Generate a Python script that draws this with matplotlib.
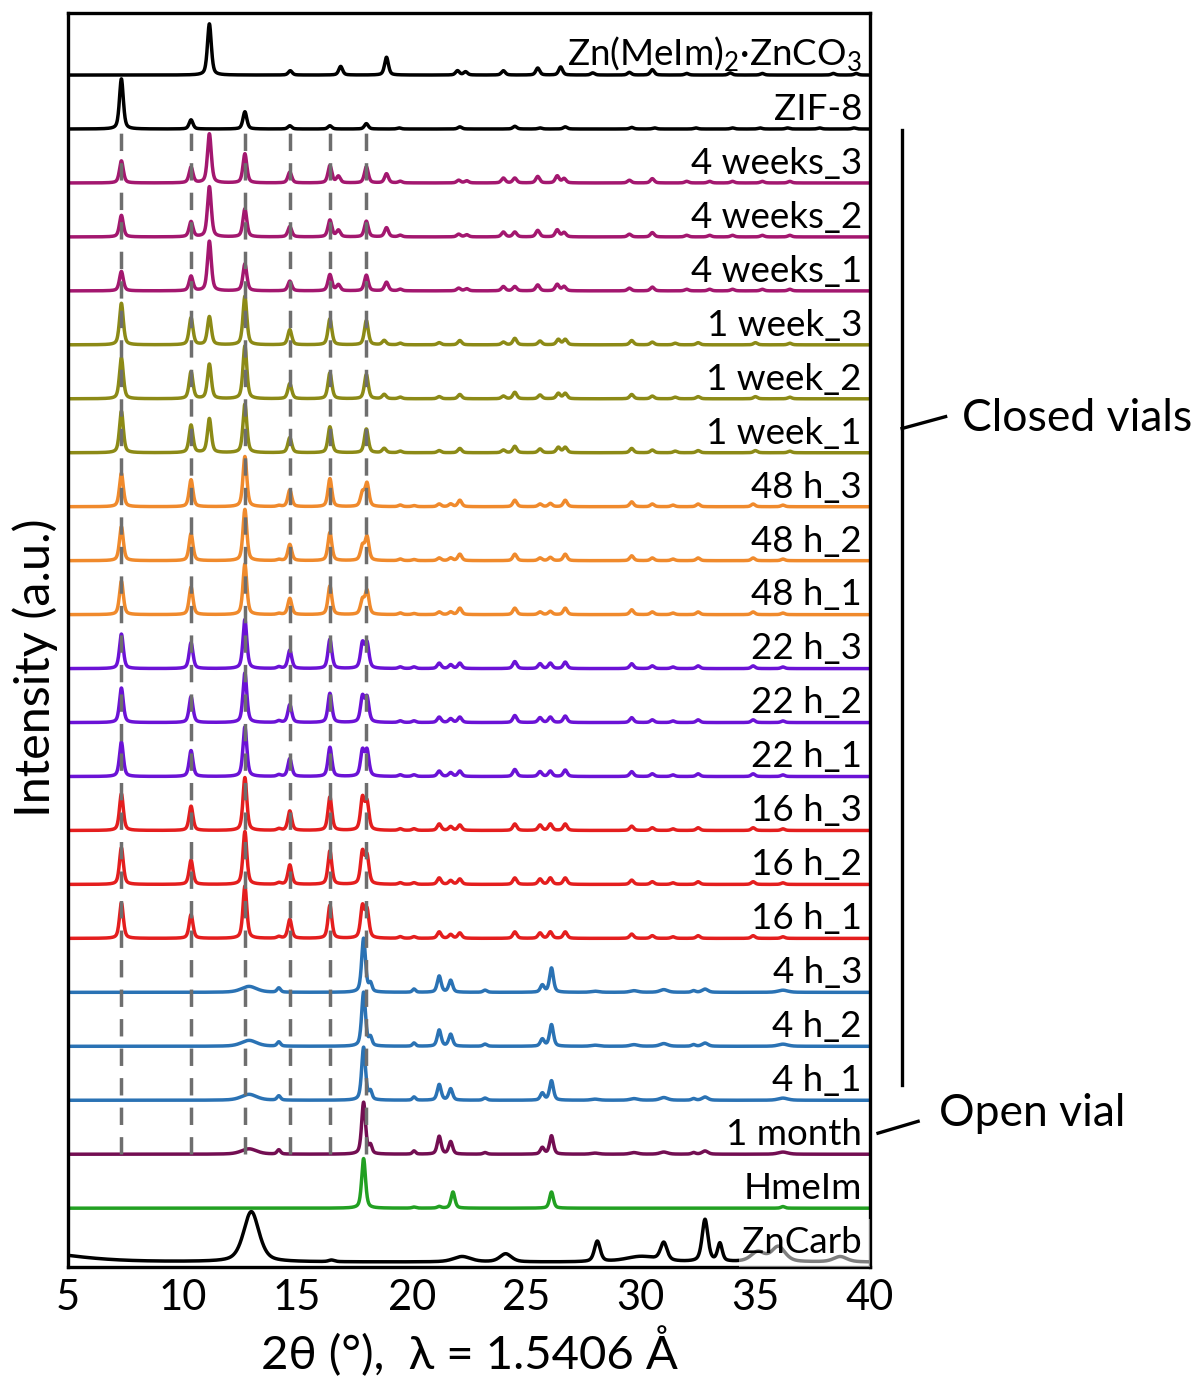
import numpy as np
import matplotlib
matplotlib.use("Agg")
import matplotlib.pyplot as plt
from matplotlib.patches import Rectangle

plt.rcParams['font.family'] = ['Lato', 'DejaVu Sans']
plt.rcParams['mathtext.fontset'] = 'custom'
plt.rcParams['mathtext.rm'] = 'Lato'

# ---------------- data (peak positions 2theta, heights, half widths) ----------------
ZNMEIM_POS = [11.17, 14.7, 16.9, 18.9, 22.0, 22.35, 24.0, 25.5, 26.5, 27.9, 29.5, 30.5, 32.0, 33.9, 35.3, 38.4, 39.4]
ZNMEIM_H   = [0.95, 0.08, 0.16, 0.33, 0.08, 0.06, 0.08, 0.13, 0.15, 0.04, 0.05, 0.10, 0.03, 0.04, 0.03, 0.03, 0.03]

ZIF8_POS = [7.33, 10.37, 12.72, 14.68, 16.43, 18.02, 19.45, 22.1, 24.5, 25.6, 26.7, 29.6, 30.6, 32.4, 34.0, 35.2, 36.4, 37.8, 39.3]
ZIF8_H   = [0.93, 0.17, 0.32, 0.06, 0.06, 0.10, 0.02, 0.04, 0.05, 0.02, 0.04, 0.03, 0.02, 0.02, 0.02, 0.02, 0.02, 0.02, 0.02]

W4_POS = [7.33, 10.37, 11.17, 12.72, 14.68, 16.43, 16.8, 18.02, 18.9, 19.5, 22.05, 22.4, 24.0, 24.5, 25.5, 26.35, 26.65, 29.5, 30.5, 32.0, 33.0, 34.0, 35.3, 36.5]
W4_H3 = [0.41, 0.29, 0.91, 0.54, 0.20, 0.32, 0.12, 0.30, 0.17, 0.03, 0.05, 0.04, 0.09, 0.09, 0.12, 0.13, 0.08, 0.05, 0.08, 0.03, 0.03, 0.03, 0.03, 0.03]
W4_H2 = [0.40, 0.28, 0.93, 0.52, 0.19, 0.31, 0.12, 0.29, 0.17, 0.03, 0.05, 0.04, 0.09, 0.09, 0.12, 0.13, 0.08, 0.05, 0.08, 0.03, 0.03, 0.03, 0.03, 0.03]
W4_H1 = [0.36, 0.27, 0.92, 0.50, 0.18, 0.30, 0.11, 0.29, 0.16, 0.03, 0.05, 0.04, 0.08, 0.08, 0.11, 0.12, 0.08, 0.05, 0.07, 0.03, 0.03, 0.03, 0.03, 0.03]

W1_POS = [7.33, 10.37, 11.17, 12.72, 14.68, 16.43, 18.02, 18.8, 19.5, 21.2, 22.1, 24.0, 24.5, 25.6, 26.4, 26.7, 29.6, 30.5, 31.5, 32.5, 35.0, 36.5]
W1_H3 = [0.77, 0.50, 0.52, 0.90, 0.28, 0.48, 0.45, 0.08, 0.03, 0.04, 0.08, 0.05, 0.12, 0.07, 0.10, 0.10, 0.08, 0.05, 0.03, 0.04, 0.04, 0.03]
W1_H2 = [0.76, 0.50, 0.64, 0.98, 0.28, 0.48, 0.45, 0.08, 0.03, 0.04, 0.08, 0.05, 0.12, 0.07, 0.10, 0.10, 0.08, 0.05, 0.03, 0.04, 0.04, 0.03]
W1_H1 = [0.77, 0.51, 0.63, 0.90, 0.28, 0.48, 0.44, 0.08, 0.03, 0.04, 0.08, 0.05, 0.12, 0.07, 0.10, 0.10, 0.08, 0.05, 0.03, 0.04, 0.04, 0.03]

H48_POS = [7.33, 10.37, 12.72, 14.2, 14.68, 16.43, 17.85, 18.05, 19.5, 20.1, 21.2, 21.7, 22.1, 24.5, 25.6, 26.05, 26.7, 29.6, 30.5, 31.4, 32.5, 34.9, 36.2]
H48_H3 = [0.62, 0.50, 0.93, 0.02, 0.31, 0.52, 0.25, 0.42, 0.03, 0.02, 0.05, 0.05, 0.12, 0.12, 0.05, 0.06, 0.12, 0.09, 0.05, 0.03, 0.05, 0.05, 0.03]
H48_H2 = [0.63, 0.50, 0.95, 0.02, 0.30, 0.52, 0.26, 0.43, 0.03, 0.02, 0.05, 0.05, 0.12, 0.12, 0.05, 0.06, 0.12, 0.09, 0.05, 0.03, 0.05, 0.05, 0.03]
H48_H1 = [0.62, 0.51, 0.94, 0.02, 0.30, 0.53, 0.26, 0.43, 0.03, 0.02, 0.05, 0.05, 0.12, 0.12, 0.05, 0.06, 0.12, 0.09, 0.05, 0.03, 0.05, 0.05, 0.03]

H22_H3 = [0.64, 0.48, 0.91, 0.03, 0.34, 0.54, 0.45, 0.45, 0.03, 0.03, 0.10, 0.07, 0.10, 0.13, 0.09, 0.10, 0.12, 0.09, 0.05, 0.03, 0.05, 0.05, 0.03]
H22_H2 = [0.64, 0.48, 0.92, 0.03, 0.33, 0.54, 0.46, 0.44, 0.03, 0.03, 0.10, 0.07, 0.10, 0.13, 0.09, 0.10, 0.12, 0.09, 0.05, 0.03, 0.05, 0.05, 0.03]
H22_H1 = [0.64, 0.48, 0.92, 0.03, 0.33, 0.54, 0.46, 0.46, 0.03, 0.03, 0.10, 0.07, 0.10, 0.13, 0.09, 0.10, 0.12, 0.09, 0.05, 0.03, 0.05, 0.05, 0.03]

H16_H3 = [0.68, 0.45, 0.98, 0.03, 0.36, 0.62, 0.58, 0.50, 0.03, 0.03, 0.12, 0.07, 0.10, 0.12, 0.10, 0.12, 0.12, 0.08, 0.05, 0.03, 0.05, 0.05, 0.03]
H16_H2 = [0.68, 0.45, 0.98, 0.03, 0.36, 0.62, 0.58, 0.50, 0.03, 0.03, 0.12, 0.07, 0.10, 0.12, 0.10, 0.12, 0.12, 0.08, 0.05, 0.03, 0.05, 0.05, 0.03]
H16_H1 = [0.66, 0.44, 0.97, 0.03, 0.35, 0.61, 0.57, 0.50, 0.03, 0.03, 0.12, 0.07, 0.10, 0.12, 0.10, 0.12, 0.12, 0.08, 0.05, 0.03, 0.05, 0.05, 0.03]

H4_POS = [12.9, 14.2, 17.9, 18.2, 20.1, 21.2, 21.7, 23.2, 25.7, 26.1, 28.0, 29.7, 31.0, 32.3, 32.8, 36.2]
H4_W   = [0.40, 0.09, 0.10, 0.08, 0.08, 0.10, 0.10, 0.10, 0.10, 0.10, 0.2, 0.2, 0.2, 0.1, 0.15, 0.25]
H4_H3 = [0.11, 0.08, 1.00, 0.15, 0.06, 0.30, 0.22, 0.04, 0.13, 0.45, 0.02, 0.03, 0.05, 0.03, 0.06, 0.04]
H4_H2 = [0.11, 0.08, 1.00, 0.15, 0.06, 0.30, 0.22, 0.04, 0.13, 0.40, 0.02, 0.03, 0.05, 0.03, 0.06, 0.04]
H4_H1 = [0.11, 0.08, 0.98, 0.15, 0.06, 0.29, 0.21, 0.04, 0.13, 0.36, 0.02, 0.03, 0.05, 0.03, 0.06, 0.04]
M1_H  = [0.10, 0.08, 0.96, 0.15, 0.06, 0.33, 0.23, 0.03, 0.12, 0.34, 0.02, 0.03, 0.04, 0.03, 0.06, 0.04]

HMEIM_POS = [17.9, 20.1, 21.2, 21.8, 26.1, 36.2]
HMEIM_H   = [0.92, 0.02, 0.03, 0.30, 0.30, 0.03]

ZNCARB_POS = [3.0, 13.0, 16.5, 22.2, 24.1, 28.1, 30.0, 31.0, 32.8, 33.45, 35.1, 36.0, 38.7]
ZNCARB_H   = [0.20, 0.93, 0.03, 0.10, 0.15, 0.38, 0.10, 0.33, 0.78, 0.33, 0.18, 0.28, 0.10]
ZNCARB_W   = [2.5, 0.40, 0.15, 0.45, 0.30, 0.15, 0.8, 0.17, 0.15, 0.12, 0.35, 0.35, 0.35]

LABELS = [r'Zn(MeIm)$_\mathregular{2}$·ZnCO$_\mathregular{3}$', 'ZIF-8',
          '4 weeks_3', '4 weeks_2', '4 weeks_1',
          '1 week_3', '1 week_2', '1 week_1',
          '48 h_3', '48 h_2', '48 h_1',
          '22 h_3', '22 h_2', '22 h_1',
          '16 h_3', '16 h_2', '16 h_1',
          '4 h_3', '4 h_2', '4 h_1',
          '1 month', 'HmeIm', 'ZnCarb']

DASH_POS = [7.33, 10.37, 12.72, 14.68, 16.43, 18.02]

C_BLACK, C_4W, C_1W, C_48, C_22, C_16, C_4H, C_1M, C_HM = (
    '#000000', '#A3176F', '#8C8A16', '#F08A2C', '#6B12D6', '#E41E1E', '#2A72B4', '#730E52', '#22A022')

SHARP = 0.1
patterns = [
    (ZNMEIM_POS, ZNMEIM_H, None, C_BLACK),
    (ZIF8_POS, ZIF8_H, None, C_BLACK),
    (W4_POS, W4_H3, None, C_4W), (W4_POS, W4_H2, None, C_4W), (W4_POS, W4_H1, None, C_4W),
    (W1_POS, W1_H3, None, C_1W), (W1_POS, W1_H2, None, C_1W), (W1_POS, W1_H1, None, C_1W),
    (H48_POS, H48_H3, None, C_48), (H48_POS, H48_H2, None, C_48), (H48_POS, H48_H1, None, C_48),
    (H48_POS, H22_H3, None, C_22), (H48_POS, H22_H2, None, C_22), (H48_POS, H22_H1, None, C_22),
    (H48_POS, H16_H3, None, C_16), (H48_POS, H16_H2, None, C_16), (H48_POS, H16_H1, None, C_16),
    (H4_POS, H4_H3, H4_W, C_4H), (H4_POS, H4_H2, H4_W, C_4H), (H4_POS, H4_H1, H4_W, C_4H),
    (H4_POS, M1_H, H4_W, C_1M),
    (HMEIM_POS, HMEIM_H, None, C_HM),
    (ZNCARB_POS, ZNCARB_H, ZNCARB_W, C_BLACK),
]


def profile(x, pos, h, w):
    y = np.zeros_like(x)
    for i, (p, a) in enumerate(zip(pos, h)):
        g = SHARP if w is None else w[i]
        lor = 1.0 / (1.0 + ((x - p) / g) ** 2)
        gau = np.exp(-np.log(2) * ((x - p) / g) ** 2)
        y += a * (0.5 * lor + 0.5 * gau)
    return y


fig = plt.figure(figsize=(11.99, 13.82), dpi=100)
ax = fig.add_axes([68 / 1199, 115 / 1382, (870 - 68) / 1199, (1267 - 13) / 1382])
x = np.linspace(5, 40, 3501)
n = len(patterns)
for i, (pos, h, w, col) in enumerate(patterns):
    off = n - 1 - i
    ax.plot(x, profile(x, pos, h, w) + off, color=col, lw=2.5, zorder=2, solid_joinstyle='round')
    if LABELS[i] == 'ZnCarb':
        ax.add_patch(Rectangle((34.3, off - 0.2), 6.0, 1.0, facecolor='white', alpha=0.5,
                               edgecolor='none', zorder=3))
    ax.text(39.65, off + 0.17, LABELS[i], ha='right', va='baseline', fontsize=26.5, zorder=4)

for p in DASH_POS:
    ax.plot([p, p], [2.0, 21.0], color='#6E6E6E', lw=2.5, dashes=(5, 3.5), zorder=3)

ax.set_xlim(5, 40)
ax.set_ylim(-0.09, 23.15)
ax.set_yticks([])
ax.set_xticks([5, 10, 15, 20, 25, 30, 35, 40])
ax.tick_params(axis='x', length=0, pad=9, labelsize=30)
for s in ax.spines.values():
    s.set_linewidth(2.4)

# right-side annotations
ax.plot([41.4, 41.4], [3.28, 20.98], color='black', lw=2.4, clip_on=False)
ax.plot([41.4, 43.3], [15.45, 15.67], color='black', lw=2.4, clip_on=False)
ax.text(44.0, 15.64, 'Closed vials', ha='left', va='center', fontsize=32)
ax.plot([40.35, 42.1], [2.39, 2.61], color='black', lw=2.4, clip_on=False)
ax.text(43.0, 2.76, 'Open vial', ha='left', va='center', fontsize=32)

fig.text(35 / 1199, (1382 - 668) / 1382, 'Intensity (a.u.)', rotation=90, ha='center', va='center', fontsize=35)
fig.text(469 / 1199, (1382 - 1352) / 1382, '2θ (°),  λ = 1.5406 Å', ha='center', va='center', fontsize=34)

fig.savefig('out.png', dpi=100)
